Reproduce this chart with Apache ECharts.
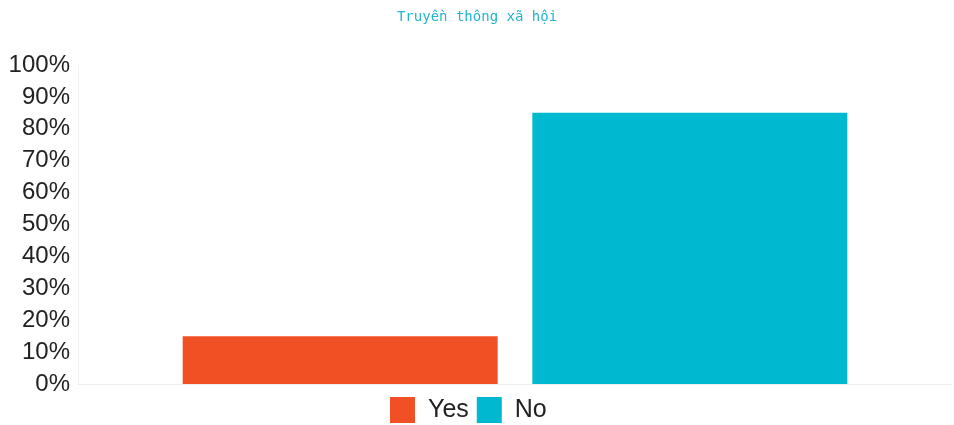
<!DOCTYPE html>
<html>
<head>
<meta charset="utf-8">
<script src="https://cdn.jsdelivr.net/npm/echarts@6/dist/echarts.min.js"></script>
<style>
  html, body { margin: 0; padding: 0; background: #fff; }
  #chart { width: 954px; height: 425px; }
</style>
</head>
<body>
<div id="chart"></div>
<script>
// Survey answers for social media use
const titleText = 'Truyền thông xã hội';
const categories = ['Truyền thông xã hội'];
const seriesNames = ['Yes', 'No'];
const seriesValues = [[15], [85]];
const seriesColors = ['#f05023', '#00b8cf'];
const yTicks = [0, 10, 20, 30, 40, 50, 60, 70, 80, 90, 100];

const chart = echarts.init(document.getElementById('chart'), null, { renderer: 'canvas' });

const series = seriesNames.map((name, i) => ({
  name: name,
  type: 'bar',
  data: seriesValues[i],
  itemStyle: { color: seriesColors[i] },
  barWidth: 315,
  barGap: '11%'
}));

chart.setOption({
  animation: false,
  backgroundColor: '#ffffff',
  title: {
    text: titleText,
    left: 'center',
    top: 5,
    textStyle: {
      fontFamily: 'DejaVu Sans Mono',
      fontSize: 14,
      fontWeight: 'normal',
      color: '#22b5cf'
    }
  },
  legend: {
    data: seriesNames,
    bottom: -3,
    left: 385,
    itemWidth: 25,
    itemHeight: 26,
    itemGap: 8,
    icon: 'rect',
    textStyle: {
      fontFamily: 'Liberation Sans',
      fontSize: 25,
      color: '#222',
      padding: [0, 0, 0, 8]
    }
  },
  grid: {
    left: 78,
    right: 2,
    top: 65,
    bottom: 41
  },
  xAxis: {
    type: 'category',
    data: categories,
    axisLabel: { show: false },
    axisTick: { show: false },
    axisLine: { show: true, lineStyle: { color: '#eeeeee', width: 1 } }
  },
  yAxis: {
    type: 'value',
    min: yTicks[0],
    max: yTicks[yTicks.length - 1],
    interval: yTicks[1] - yTicks[0],
    axisLabel: {
      formatter: '{value}%',
      fontFamily: 'Liberation Sans',
      fontSize: 24,
      color: '#222',
      margin: 8
    },
    axisLine: { show: true, lineStyle: { color: '#f2f2f2', width: 1 } },
    axisTick: { show: false },
    splitLine: { show: false }
  },
  series: series
});
</script>
</body>
</html>
